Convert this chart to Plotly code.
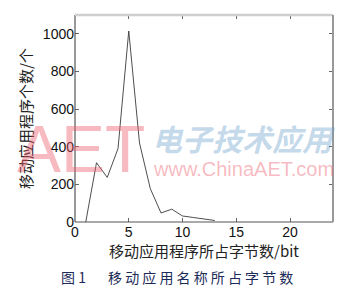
import plotly.graph_objects as go

# data
byte_len = [1, 2, 3, 4, 5, 6, 7, 8, 9, 10, 11, 12, 13]
app_count = [0, 315, 237, 390, 1015, 420, 178, 48, 68, 32, 24, 16, 8]
x_ticks = [0, 5, 10, 15, 20]
y_ticks = [0, 200, 400, 600, 800, 1000]

fig = go.Figure()
fig.add_trace(go.Scatter(x=byte_len, y=app_count, mode="lines",
                         line=dict(color="#3a3a3a", width=0.9), showlegend=False))

tickfont = dict(family="Liberation Sans, Arial", size=14, color="#111")
fig.update_xaxes(range=[0, 24], tickvals=x_ticks, ticks="inside", ticklen=4,
                 tickcolor="#666", tickwidth=1, mirror="ticks", showline=False,
                 showgrid=False, zeroline=False, tickfont=tickfont,
                 title=dict(text="移动应用程序所占字节数/bit",
                            font=dict(family="Noto Sans CJK SC", size=15, color="#222"),
                            standoff=5))
fig.update_yaxes(range=[0, 1100], tickvals=y_ticks, ticks="inside", ticklen=4,
                 tickcolor="#666", tickwidth=1, mirror="ticks", showline=False,
                 showgrid=False, zeroline=False, tickfont=tickfont,
                 title=dict(text="移动应用程序个数/个",
                            font=dict(family="Noto Sans CJK SC", size=15, color="#222"),
                            standoff=6))

# borders
fig.add_shape(type="line", xref="paper", yref="paper", x0=0, x1=0, y0=0, y1=1,
              line=dict(color="#555", width=1.2))
fig.add_shape(type="line", xref="paper", yref="paper", x0=0, x1=1, y0=0, y1=0,
              line=dict(color="#555", width=1.2))
fig.add_shape(type="line", xref="paper", yref="paper", x0=0, x1=1, y0=1, y1=1,
              line=dict(color="#cfcfcf", width=2.5))
fig.add_shape(type="line", xref="paper", yref="paper", x0=1, x1=1, y0=0, y1=1,
              line=dict(color="#999", width=2))

# watermark
fig.add_annotation(text="AET", xref="paper", yref="paper", x=(81 - 75) / 258,
                   y=(222 - 149) / 207, xanchor="center", yanchor="middle",
                   showarrow=False,
                   font=dict(family="Liberation Sans, Arial", size=66,
                             color="rgba(235,90,105,0.42)"))
fig.add_annotation(text="<i><b>电子技术应用</b></i>", xref="paper", yref="paper",
                   x=(243 - 75) / 258, y=(222 - 138) / 207, xanchor="center",
                   yanchor="middle", showarrow=False,
                   font=dict(family="Noto Sans CJK SC", size=30,
                             color="rgba(100,155,200,0.38)"))
fig.add_annotation(text="www.ChinaAET.com", xref="paper", yref="paper",
                   x=(243 - 75) / 258, y=(222 - 169) / 207, xanchor="center",
                   yanchor="middle", showarrow=False,
                   font=dict(family="Liberation Sans, Arial", size=20,
                             color="rgba(235,90,105,0.42)"))

# caption
cap_font = dict(family="Noto Sans CJK SC", size=14, color="#1c2b58")
fig.add_annotation(text="图 1", xref="paper", yref="paper", x=(73 - 75) / 258,
                   y=-(277 - 222) / 207, xanchor="center", yanchor="middle",
                   showarrow=False, font=cap_font)
fig.add_annotation(text="移 动 应 用 名 称 所 占 字 节 数", xref="paper", yref="paper",
                   x=(200 - 75) / 258, y=-(277 - 222) / 207, xanchor="center",
                   yanchor="middle", showarrow=False, font=cap_font)

fig.update_layout(width=355, height=297, margin=dict(l=75, r=22, t=15, b=75),
                  plot_bgcolor="white", paper_bgcolor="white")
fig.write_html("out.html")
